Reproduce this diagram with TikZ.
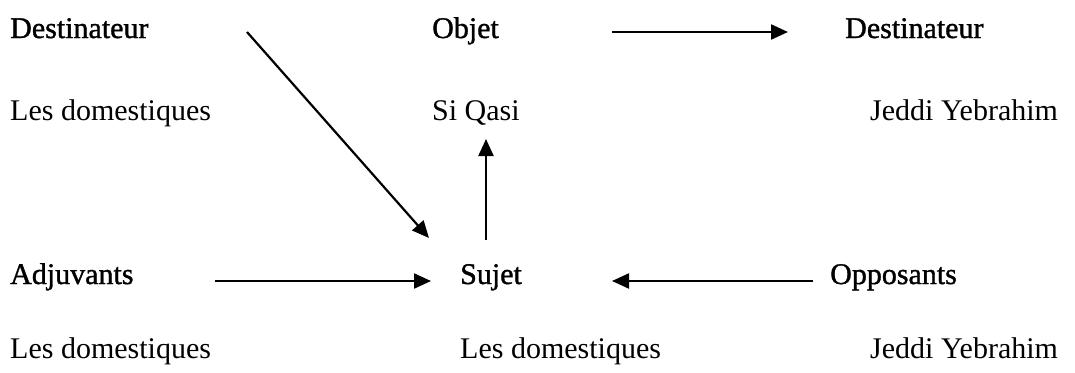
\documentclass[tikz,border=0pt]{standalone}
\usepackage{fontspec}
\setmainfont{Liberation Serif}
\newfontfamily\headfont[FakeBold=1.2]{Liberation Serif}
\usetikzlibrary{arrows.meta}
\begin{document}
\begin{tikzpicture}[x=1pt,y=-1pt,
  lbl/.style={anchor=base west,inner sep=0pt,font=\fontsize{30}{34}\selectfont},
  hd/.style={anchor=base west,inner sep=0pt,font=\headfont\fontsize{30}{34}\selectfont},
  arr/.style={line width=2.2pt,-{Triangle[length=17pt,width=15pt]}}]
\useasboundingbox (0,0) rectangle (1075,372);
% headers
\node[hd] (dest1) at (10,38) {Destinateur};
\node[hd] (obj) at (432,38) {Objet};
\node[hd] (dest2) at (845,38) {Destinateur};
\node[hd] (adj) at (10,284) {Adjuvants};
\node[hd] (suj) at (460,284) {Sujet};
\node[hd] (opp) at (830,284) {Opposants};
% values
\node[lbl] (v1) at (10,120) {Les domestiques};
\node[lbl] (v2) at (432,120) {Si Qasi};
\node[lbl] (v3) at (870,120) {Jeddi Yebrahim};
\node[lbl] (v4) at (10,358) {Les domestiques};
\node[lbl] (v5) at (460,358) {Les domestiques};
\node[lbl] (v6) at (870,358) {Jeddi Yebrahim};
% arrow ends
\coordinate (a1s) at (612,32);
\coordinate (a1e) at (788,32);
\coordinate (a2s) at (247,32);
\coordinate (a2e) at (429,238);
\coordinate (a3s) at (486,240);
\coordinate (a3e) at (486,139);
\coordinate (a4s) at (215,281);
\coordinate (a4e) at (431,281);
\coordinate (a5s) at (813,281);
\coordinate (a5e) at (612,281);
\draw[arr] (a1s) -- (a1e);
\draw[arr] (a2s) -- (a2e);
\draw[arr] (a3s) -- (a3e);
\draw[arr] (a4s) -- (a4e);
\draw[arr] (a5s) -- (a5e);
\end{tikzpicture}
\end{document}
